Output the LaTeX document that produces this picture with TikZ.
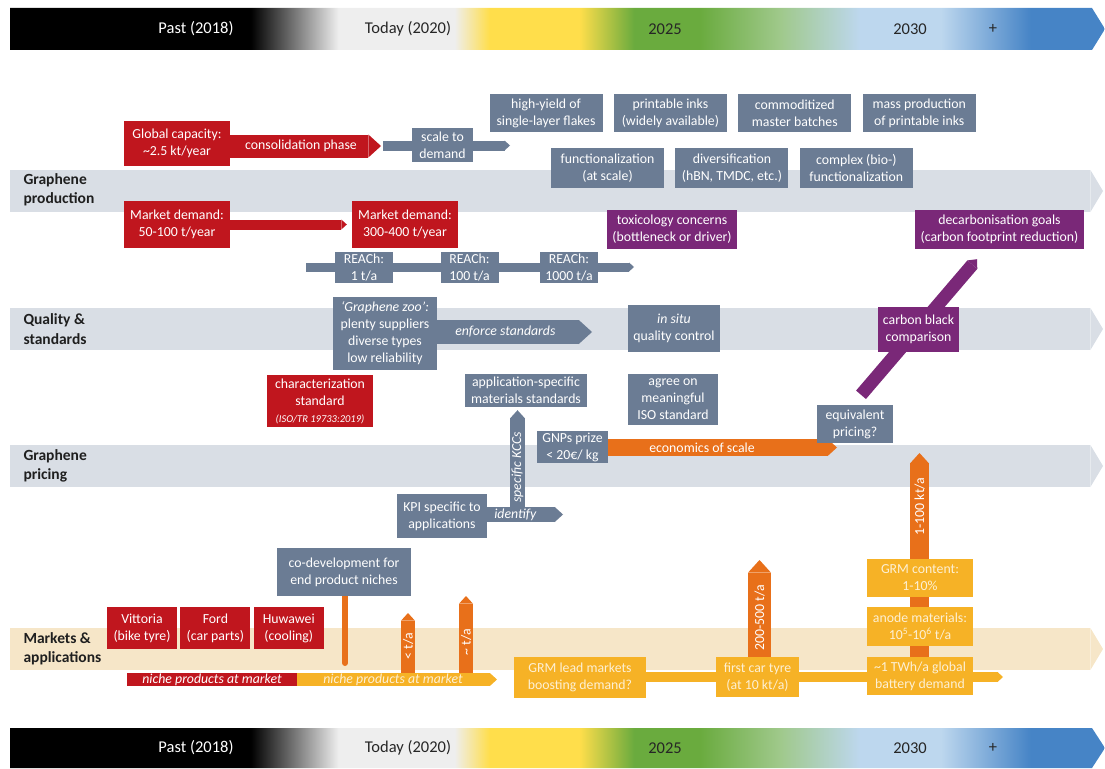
\documentclass[tikz,border=0pt]{standalone}
\usepackage{fontspec}
\setmainfont{Carlito}
\usepackage{tikz}
\usetikzlibrary{positioning,arrows.meta,backgrounds}

\definecolor{grRed}{RGB}{192,22,30}
\definecolor{grSlate}{RGB}{107,124,148}
\definecolor{grPurple}{RGB}{122,40,120}
\definecolor{grOrange}{RGB}{232,112,26}
\definecolor{grAmber}{RGB}{246,178,38}
\definecolor{grCream}{RGB}{253,240,212}
\definecolor{grBand}{RGB}{217,222,229}
\definecolor{grBeige}{RGB}{246,230,200}
\definecolor{tlGray}{RGB}{238,238,238}
\definecolor{tlYellow}{RGB}{255,222,75}
\definecolor{tlGreen}{RGB}{106,171,62}
\definecolor{tlLGreen}{RGB}{160,201,140}
\definecolor{tlLBlue}{RGB}{189,215,238}
\definecolor{tlBlue}{RGB}{70,132,198}

\pgfdeclarehorizontalshading{timeline}{100bp}{color(0bp)=(black); color(36bp)=(black); color(40bp)=(tlGray); color(45.3bp)=(tlGray); color(46.9bp)=(tlYellow); color(51bp)=(tlYellow); color(53.5bp)=(tlGreen); color(56.5bp)=(tlGreen); color(60.2bp)=(tlLGreen); color(63.8bp)=(tlLBlue); color(67.5bp)=(tlLBlue); color(71.6bp)=(tlBlue); color(100bp)=(tlBlue)}

\newcommand{\boxfont}{\fontsize{13.8}{17}\selectfont}
\newcommand{\catfont}{\fontsize{15.5}{19.5}\selectfont\bfseries}
\newcommand{\barfont}{\fontsize{16.5}{18}\selectfont}

\tikzset{
  box/.style={fill=#1, text=white, align=center, inner sep=1pt, font=\boxfont},
  redbox/.style={box=grRed},
  slatebox/.style={box=grSlate},
  purplebox/.style={box=grPurple},
  amberbox/.style={box=grAmber, text=grCream},
  blockarrow/.style={line width=#1, -{Triangle[length=0pt 0.55, width=0pt 1, line width=0pt]}},
  band/.style={draw=grBand, line width=42pt, -{Triangle[length=0pt 0.3, width=0pt 1, line width=0pt]}},
  catlabel/.style={anchor=west, align=left, font=\catfont, text=black!88},
  bartext/.style={font=\barfont, text=black!85},
  arrowtext/.style={text=white, font=\boxfont, inner sep=0pt}
}

\begin{document}
\begin{tikzpicture}[x=1pt,y=-1pt]
\useasboundingbox (0,0) rectangle (1105,768);

\shade[shading=timeline] (10,8) -- (1092,8) -- (1105,29) -- (1092,50) -- (10,50) -- cycle;
\shade[shading=timeline] (10,728) -- (1092,728) -- (1105,748) -- (1092,768) -- (10,768) -- cycle;
\node[bartext, text=white] (past) at (196,29) {Past (2018)};
\node[bartext] (today) at (408,29) {Today (2020)};
\node[bartext] (y25) at (665,29) {2025};
\node[bartext] (y30) at (910,29) {2030};
\node[bartext] (plus) at (993,29) {+};
\node[bartext, text=white] (pastB) at (196,748) {Past (2018)};
\node[bartext] (todayB) at (408,748) {Today (2020)};
\node[bartext] (y25B) at (665,748) {2025};
\node[bartext] (y30B) at (910,748) {2030};
\node[bartext] (plusB) at (993,748) {+};

\coordinate (prodS) at (10,191); \coordinate (prodE) at (1103,191);
\coordinate (qualS) at (10,329); \coordinate (qualE) at (1103,329);
\coordinate (priceS) at (10,466); \coordinate (priceE) at (1103,466);
\coordinate (markS) at (10,649); \coordinate (markE) at (1103,649);
\node[catlabel] (prod) at (20,190) {Graphene\\production};
\node[catlabel] (qual) at (20,329) {Quality \&\\standards};
\node[catlabel] (price) at (20,466) {Graphene\\pricing};
\node[catlabel] (mark) at (20,649) {Markets \&\\applications};

% graphene production
\node[redbox, minimum width=106pt, minimum height=45pt] (gcap) at (177,143.5) {Global capacity:\\\textasciitilde2.5 kt/year};
\node[slatebox, minimum width=61pt, minimum height=34pt] (scale) at (442.5,145) {scale to\\demand};
\begin{scope}[every node/.style={slatebox, minimum width=113pt, minimum height=38pt}]
  \node (hiyield) at (546,113) {high-yield of\\single-layer flakes};
  \node[right=11pt of hiyield] (inks) {printable inks\\(widely available)};
  \node[right=11pt of inks] (commod) {commoditized\\master batches};
  \node[right=11pt of commod] (massinks) {mass production\\of printable inks};
\end{scope}
\begin{scope}[every node/.style={slatebox, minimum width=113pt, minimum height=40pt}]
  \node (func) at (607.5,168) {functionalization\\(at scale)};
  \node[right=11pt of func] (divers) {diversification\\(hBN, TMDC, etc.)};
  \node[right=11pt of divers] (complex) {complex (bio-)\\functionalization};
\end{scope}
\node[redbox, minimum width=106pt, minimum height=47pt] (md1) at (177,224.5) {Market demand:\\50-100 t/year};
\node[redbox, minimum width=106pt, minimum height=47pt] (md2) at (405,224.5) {Market demand:\\300-400 t/year};
\begin{scope}[every node/.style={slatebox, minimum width=58pt, minimum height=31pt}]
  \node (r1) at (364,267.5) {REACh:\\1 t/a};
  \node (r2) at (469.5,267.5) {REACh:\\100 t/a};
  \node (r3) at (569,267.5) {REACh:\\1000 t/a};
\end{scope}
\node[purplebox, minimum width=130pt, minimum height=39pt] (tox) at (672,229.5) {toxicology concerns\\(bottleneck or driver)};
\node[purplebox, minimum width=169pt, minimum height=39pt] (decarb) at (999.5,229.5) {decarbonisation goals\\(carbon footprint reduction)};

% quality & standards
\node[slatebox, minimum width=104pt, minimum height=73pt] (zoo) at (385,333.5) {\textit{‘Graphene zoo’:}\\plenty suppliers\\diverse types\\low reliability};
\node[slatebox, minimum width=92pt, minimum height=47pt] (insitu) at (674,328.5) {\textit{in situ}\\quality control};
\node[purplebox, minimum width=81pt, minimum height=45pt] (cblack) at (918.5,329.5) {carbon black\\comparison};
\node[redbox, minimum width=106pt, minimum height=52pt] (charstd) at (320,401) {characterization\\standard\\{\fontsize{10.5}{12}\selectfont\itshape (ISO/TR 19733:2019)}};
\node[slatebox, minimum width=122pt, minimum height=33pt] (appstd) at (526,390.5) {application-specific\\materials standards};
\node[slatebox, minimum width=90pt, minimum height=51pt] (agreeiso) at (673,399.5) {agree on\\meaningful\\ISO standard};

% pricing
\node[slatebox, minimum width=71pt, minimum height=32pt] (gnps) at (572.5,447) {GNPs prize\\< 20€/ kg};
\node[slatebox, minimum width=76pt, minimum height=38pt] (eqprice) at (855,424) {equivalent\\pricing?};
\node[slatebox, minimum width=90pt, minimum height=44pt] (kpi) at (442,516) {KPI specific to\\applications};

% markets & applications
\node[slatebox, minimum width=134pt, minimum height=48pt] (codev) at (344,572) {co-development for\\end product niches};
\begin{scope}[every node/.style={redbox, minimum width=70pt, minimum height=42pt}]
  \node (vittoria) at (142,628) {Vittoria\\(bike tyre)};
  \node[right=3pt of vittoria] (ford) {Ford\\(car parts)};
  \node[right=3pt of ford] (huawei) {Huwawei\\(cooling)};
\end{scope}
\node[amberbox, minimum width=132pt, minimum height=41pt] (grmlead) at (580,677.5) {GRM lead markets\\boosting demand?};
\node[amberbox, minimum width=83pt, minimum height=40pt] (firsttyre) at (757.5,677) {first car tyre\\(at 10 kt/a)};
\node[amberbox, minimum width=106pt, minimum height=38pt] (grmc) at (920,578) {GRM content:\\1-10\%};
\node[amberbox, minimum width=106pt, minimum height=39pt] (anode) at (920,626.5) {anode materials:\\10\textsuperscript{5}-10\textsuperscript{6} t/a};
\node[amberbox, minimum width=106pt, minimum height=38pt] (twh) at (920,676) {\textasciitilde1 TWh/a global\\battery demand};

\begin{scope}[on background layer]
  \draw[band] (prodS) -- (prodE);
  \draw[band] (qualS) -- (qualE);
  \draw[band] (priceS) -- (priceE);
  \draw[band, draw=grBeige] (markS) -- (markE);

  \coordinate (consE) at (381,146);
  \draw[blockarrow=23pt, draw=grRed] (gcap.east |- consE) -- (consE) node[arrowtext, pos=0.47] {consolidation phase};
  \coordinate (scaleS) at (383,145.5); \coordinate (scaleE) at (510,145.5);
  \draw[blockarrow=10pt, draw=grSlate] (scaleS) -- (scaleE);
  \draw[blockarrow=10pt, draw=grRed] (md1.east) -- ([xshift=-5pt]md2.west);
  \coordinate (reachS) at (306,267); \coordinate (reachE) at (634,267);
  \draw[blockarrow=9pt, draw=grSlate] (reachS) -- (reachE);

  \coordinate (enfE) at (592,332);
  \draw[blockarrow=24pt, draw=grSlate] (zoo.east |- enfE) -- (enfE) node[arrowtext, pos=0.44, font=\boxfont\itshape] {enforce standards};
  \draw[blockarrow=13pt, draw=grPurple] ([xshift=6pt,yshift=10pt]eqprice.north) -- ([xshift=-22.5pt,yshift=-10pt]decarb.south);

  \coordinate (kccS) at (517.5,514);
  \draw[blockarrow=15pt, draw=grSlate] (kccS) -- ([xshift=-8.5pt,yshift=-3pt]appstd.south) node[arrowtext, pos=0.45, rotate=90, font=\boxfont\itshape] {specific KCCs};
  \coordinate (idE) at (563,514.5);
  \draw[blockarrow=15pt, draw=grSlate] (kpi.east |- idE) -- (idE) node[arrowtext, pos=0.37, font=\boxfont\itshape] {identify};
  \coordinate (econE) at (837,447.5);
  \draw[blockarrow=17pt, draw=grOrange] (gnps.east |- econE) -- (econE) node[arrowtext, pos=0.41] {economics of scale};

  \coordinate (ktE) at (919.5,453);
  \draw[blockarrow=19pt, draw=grOrange] (twh.center -| ktE) -- (ktE) node[arrowtext, pos=0.76, rotate=90] {1-100 kt/a};

  \coordinate (codevE) at (345,663);
  \draw[grOrange, line width=6pt, line cap=round] (codev.south -| codevE) -- (codevE);
  \coordinate (ltS) at (408,673); \coordinate (ltE) at (408,613);
  \draw[blockarrow=14pt, draw=grOrange] (ltS) -- (ltE) node[arrowtext, pos=0.45, rotate=90] {< t/a};
  \coordinate (stS) at (466,673); \coordinate (stE) at (466,596);
  \draw[blockarrow=14pt, draw=grOrange] (stS) -- (stE) node[arrowtext, pos=0.4, rotate=90] {\textasciitilde{} t/a};
  \coordinate (nicheA) at (127,679.5); \coordinate (nicheB) at (297,679.5); \coordinate (nicheC) at (497,679.5);
  \draw[grRed, line width=13pt] (nicheA) -- (nicheB) node[arrowtext, midway, font=\boxfont\itshape] {niche products at market};
  \draw[blockarrow=13pt, draw=grAmber] (nicheB) -- (nicheC) node[arrowtext, pos=0.48, text=grCream, font=\boxfont\itshape] {niche products at market};

  \coordinate (leadE) at (1003,677);
  \draw[blockarrow=10pt, draw=grAmber] (grmlead.east |- leadE) -- (leadE);
  \coordinate (tyreE) at (759.5,560);
  \draw[blockarrow=23pt, draw=grOrange] (firsttyre.north -| tyreE) -- (tyreE) node[arrowtext, pos=0.4, rotate=90] {200-500 t/a};
\end{scope}
\end{tikzpicture}
\end{document}
